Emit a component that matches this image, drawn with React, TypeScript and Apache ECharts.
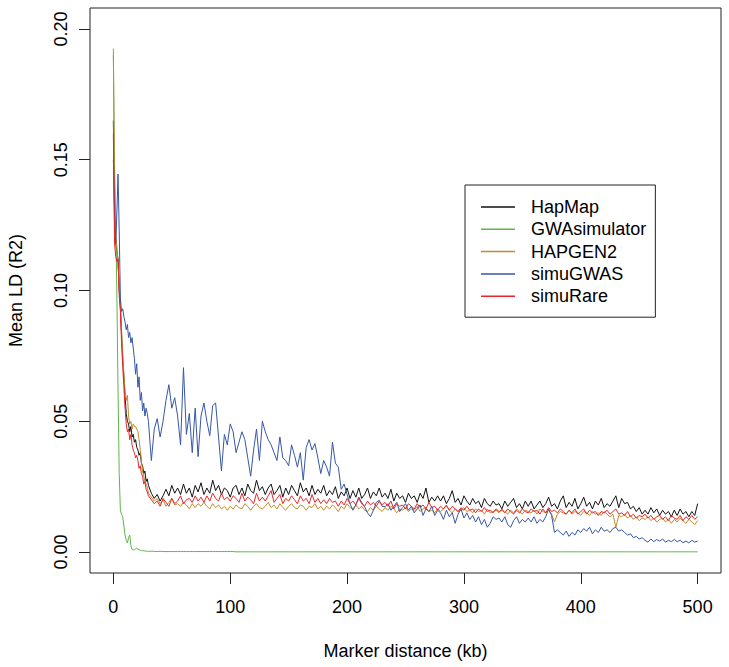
import React, { useEffect, useRef } from "react";
import * as echarts from "echarts";

// Marker distance grid (kb): 1 kb steps up to 29, then 2.5 kb steps
const DIST_KB = [
  0, 1, 2, 3, 4, 5, 6, 7, 8, 9,
  10, 11, 12, 13, 14, 15, 16, 17, 18, 19,
  20, 21, 22, 23, 24, 25, 26, 27, 28, 29,
  30, 32.5, 35, 37.5, 40, 42.5, 45, 47.5, 50, 52.5,
  55, 57.5, 60, 62.5, 65, 67.5, 70, 72.5, 75, 77.5,
  80, 82.5, 85, 87.5, 90, 92.5, 95, 97.5, 100, 102.5,
  105, 107.5, 110, 112.5, 115, 117.5, 120, 122.5, 125, 127.5,
  130, 132.5, 135, 137.5, 140, 142.5, 145, 147.5, 150, 152.5,
  155, 157.5, 160, 162.5, 165, 167.5, 170, 172.5, 175, 177.5,
  180, 182.5, 185, 187.5, 190, 192.5, 195, 197.5, 200, 202.5,
  205, 207.5, 210, 212.5, 215, 217.5, 220, 222.5, 225, 227.5,
  230, 232.5, 235, 237.5, 240, 242.5, 245, 247.5, 250, 252.5,
  255, 257.5, 260, 262.5, 265, 267.5, 270, 272.5, 275, 277.5,
  280, 282.5, 285, 287.5, 290, 292.5, 295, 297.5, 300, 302.5,
  305, 307.5, 310, 312.5, 315, 317.5, 320, 322.5, 325, 327.5,
  330, 332.5, 335, 337.5, 340, 342.5, 345, 347.5, 350, 352.5,
  355, 357.5, 360, 362.5, 365, 367.5, 370, 372.5, 375, 377.5,
  380, 382.5, 385, 387.5, 390, 392.5, 395, 397.5, 400, 402.5,
  405, 407.5, 410, 412.5, 415, 417.5, 420, 422.5, 425, 427.5,
  430, 432.5, 435, 437.5, 440, 442.5, 445, 447.5, 450, 452.5,
  455, 457.5, 460, 462.5, 465, 467.5, 470, 472.5, 475, 477.5,
  480, 482.5, 485, 487.5, 490, 492.5, 495, 497.5, 500,
];

const HAPMAP = [
  0.165, 0.125, 0.118, 0.115, 0.112, 0.100, 0.094, 0.083, 0.074, 0.067,
  0.060, 0.053, 0.050, 0.049, 0.046, 0.048, 0.044, 0.045, 0.042, 0.043,
  0.040, 0.039, 0.037, 0.038, 0.034, 0.033, 0.030, 0.031, 0.027, 0.028,
  0.0255, 0.0225, 0.0205, 0.022, 0.0195, 0.0215, 0.024, 0.0215, 0.0255, 0.0225,
  0.0245, 0.022, 0.026, 0.0225, 0.0245, 0.021, 0.0255, 0.023, 0.0265, 0.022,
  0.0245, 0.0225, 0.0275, 0.0235, 0.0255, 0.022, 0.0245, 0.0235, 0.021, 0.0245,
  0.0255, 0.022, 0.0245, 0.0215, 0.026, 0.0235, 0.0225, 0.0275, 0.0235, 0.025,
  0.022, 0.0245, 0.026, 0.022, 0.0235, 0.0255, 0.021, 0.0245, 0.022, 0.0255,
  0.0235, 0.0215, 0.0265, 0.023, 0.0245, 0.0215, 0.0255, 0.022, 0.024, 0.0225,
  0.0255, 0.0215, 0.0235, 0.022, 0.025, 0.0205, 0.023, 0.0215, 0.0245, 0.0205,
  0.0235, 0.021, 0.0245, 0.0205, 0.022, 0.0245, 0.0205, 0.023, 0.0215, 0.0245,
  0.021, 0.0225, 0.0205, 0.024, 0.0195, 0.0225, 0.0205, 0.0215, 0.019, 0.0225,
  0.0205, 0.0215, 0.019, 0.0225, 0.0205, 0.0245, 0.019, 0.021, 0.0195, 0.0215,
  0.0195, 0.0215, 0.0185, 0.0205, 0.0235, 0.019, 0.0205, 0.018, 0.0215, 0.0195,
  0.018, 0.0205, 0.0185, 0.0195, 0.017, 0.0205, 0.0185, 0.0175, 0.0195, 0.018,
  0.0185, 0.0165, 0.0195, 0.0175, 0.019, 0.0205, 0.017, 0.0185, 0.0165, 0.0195,
  0.0175, 0.0195, 0.0165, 0.018, 0.0195, 0.017, 0.0185, 0.021, 0.0175, 0.0185,
  0.0165, 0.0195, 0.0215, 0.017, 0.019, 0.0175, 0.0205, 0.0165, 0.0185, 0.021,
  0.0175, 0.019, 0.0165, 0.0195, 0.018, 0.0205, 0.017, 0.0185, 0.0175, 0.0195,
  0.0215, 0.017, 0.0205, 0.0185, 0.019, 0.0165, 0.0175, 0.0155, 0.017, 0.0145,
  0.016, 0.0145, 0.017, 0.015, 0.0165, 0.014, 0.016, 0.0145, 0.0155, 0.0135,
  0.016, 0.014, 0.0165, 0.0145, 0.0155, 0.0135, 0.0155, 0.014, 0.0185,
];

const GWASIMULATOR = [
  0.19, 0.148, 0.128, 0.098, 0.062, 0.030, 0.016, 0.0145, 0.0135, 0.010,
  0.0065, 0.0045, 0.0035, 0.0055, 0.0065, 0.0025, 0.001, 0.0008, 0.0009, 0.0012,
  0.0015, 0.0011, 0.0009, 0.0007, 0.0006, 0.0005, 0.0005, 0.0004, 0.0004, 0.0003,
  0.0003, 0.0003, 0.0003, 0.0002, 0.0003, 0.0002, 0.0002, 0.0002, 0.0002, 0.0002,
  0.0002, 0.0002, 0.0002, 0.0002, 0.0002, 0.0002, 0.0002, 0.0002, 0.0002, 0.0002,
  0.0002, 0.0002, 0.0002, 0.0002, 0.0002, 0.0002, 0.0002, 0.0002, 0.0002, 0.0002,
  0.0001, 0.0001, 0.0001, 0.0001, 0.0001, 0.0001, 0.0001, 0.0001, 0.0001, 0.0001,
  0.0001, 0.0001, 0.0001, 0.0001, 0.0001, 0.0001, 0.0001, 0.0001, 0.0001, 0.0001,
  0.0001, 0.0001, 0.0001, 0.0001, 0.0001, 0.0001, 0.0001, 0.0001, 0.0001, 0.0001,
  0.0001, 0.0001, 0.0001, 0.0001, 0.0001, 0.0001, 0.0001, 0.0001, 0.0001, 0.0001,
  0.0001, 0.0001, 0.0001, 0.0001, 0.0001, 0.0001, 0.0001, 0.0001, 0.0001, 0.0001,
  0.0001, 0.0001, 0.0001, 0.0001, 0.0001, 0.0001, 0.0001, 0.0001, 0.0001, 0.0001,
  0.0001, 0.0001, 0.0001, 0.0001, 0.0001, 0.0001, 0.0001, 0.0001, 0.0001, 0.0001,
  0.0001, 0.0001, 0.0001, 0.0001, 0.0001, 0.0001, 0.0001, 0.0001, 0.0001, 0.0001,
  0.0001, 0.0001, 0.0001, 0.0001, 0.0001, 0.0001, 0.0001, 0.0001, 0.0001, 0.0001,
  0.0001, 0.0001, 0.0001, 0.0001, 0.0001, 0.0001, 0.0001, 0.0001, 0.0001, 0.0001,
  0.0001, 0.0001, 0.0001, 0.0001, 0.0001, 0.0001, 0.0001, 0.0001, 0.0001, 0.0001,
  0.0001, 0.0001, 0.0001, 0.0001, 0.0001, 0.0001, 0.0001, 0.0001, 0.0001, 0.0001,
  0.0001, 0.0001, 0.0001, 0.0001, 0.0001, 0.0001, 0.0001, 0.0001, 0.0001, 0.0001,
  0.0001, 0.0001, 0.0001, 0.0001, 0.0001, 0.0001, 0.0001, 0.0001, 0.0001, 0.0001,
  0.0001, 0.0001, 0.0001, 0.0001, 0.0001, 0.0001, 0.0001, 0.0001, 0.0001, 0.0001,
  0.0001, 0.0001, 0.0001, 0.0001, 0.0001, 0.0001, 0.0001, 0.0001, 0.0001,
];

const HAPGEN2 = [
  0.1925, 0.130, 0.121, 0.117, 0.110, 0.102, 0.095, 0.085, 0.076, 0.068,
  0.061, 0.058, 0.060, 0.052, 0.049, 0.050, 0.047, 0.049, 0.048, 0.048,
  0.047, 0.046, 0.043, 0.039, 0.035, 0.031, 0.029, 0.027, 0.026, 0.025,
  0.0225, 0.021, 0.0195, 0.0205, 0.0185, 0.020, 0.0175, 0.019, 0.0205, 0.018,
  0.0185, 0.0175, 0.019, 0.018, 0.0165, 0.0185, 0.017, 0.0185, 0.0175, 0.019,
  0.0175, 0.0165, 0.0185, 0.017, 0.018, 0.0165, 0.0175, 0.016, 0.0175, 0.0165,
  0.018, 0.017, 0.0165, 0.0185, 0.0175, 0.016, 0.0175, 0.0185, 0.017, 0.0165,
  0.0175, 0.019, 0.017, 0.018, 0.0165, 0.0185, 0.017, 0.016, 0.0175, 0.0185,
  0.017, 0.0165, 0.018, 0.0175, 0.016, 0.0175, 0.017, 0.0185, 0.0165, 0.0175,
  0.016, 0.0175, 0.0165, 0.018, 0.017, 0.0155, 0.0175, 0.0165, 0.0185, 0.017,
  0.0165, 0.018, 0.0165, 0.0175, 0.016, 0.0155, 0.017, 0.016, 0.0175, 0.0165,
  0.0155, 0.017, 0.016, 0.0175, 0.0165, 0.015, 0.0165, 0.016, 0.017, 0.0155,
  0.0165, 0.016, 0.0175, 0.0155, 0.0165, 0.017, 0.0155, 0.016, 0.015, 0.0165,
  0.0155, 0.0165, 0.0175, 0.016, 0.015, 0.0165, 0.0155, 0.016, 0.017, 0.0155,
  0.016, 0.015, 0.0165, 0.0155, 0.016, 0.0145, 0.0165, 0.015, 0.0155, 0.016,
  0.015, 0.0165, 0.0155, 0.0145, 0.016, 0.015, 0.0165, 0.0155, 0.0145, 0.016,
  0.0155, 0.015, 0.016, 0.0145, 0.0165, 0.0155, 0.015, 0.016, 0.0145, 0.0115,
  0.0145, 0.0155, 0.015, 0.0145, 0.016, 0.0145, 0.0155, 0.015, 0.014, 0.0155,
  0.015, 0.014, 0.0155, 0.0145, 0.015, 0.014, 0.0155, 0.0145, 0.0135, 0.0145,
  0.0095, 0.014, 0.0135, 0.0145, 0.013, 0.014, 0.0125, 0.0135, 0.012, 0.013,
  0.0125, 0.0135, 0.012, 0.013, 0.0115, 0.0125, 0.013, 0.0115, 0.0125, 0.011,
  0.0125, 0.0115, 0.013, 0.012, 0.011, 0.0125, 0.0115, 0.0105, 0.012,
];

const SIMUGWAS = [
  0.15, 0.132, 0.118, 0.130, 0.1445, 0.123, 0.097, 0.092, 0.093, 0.090,
  0.088, 0.085, 0.087, 0.082, 0.084, 0.080, 0.082, 0.078, 0.074, 0.068,
  0.072, 0.063, 0.067, 0.058, 0.061, 0.054, 0.057, 0.052, 0.055, 0.053,
  0.050, 0.035, 0.047, 0.051, 0.044, 0.050, 0.058, 0.064, 0.055, 0.059,
  0.052, 0.041, 0.0705, 0.045, 0.053, 0.038, 0.055, 0.0365, 0.052, 0.057,
  0.050, 0.0445, 0.056, 0.057, 0.044, 0.031, 0.045, 0.041, 0.049, 0.046,
  0.038, 0.042, 0.046, 0.043, 0.036, 0.029, 0.039, 0.047, 0.035, 0.050,
  0.046, 0.043, 0.041, 0.038, 0.035, 0.044, 0.036, 0.035, 0.033, 0.041,
  0.037, 0.0325, 0.038, 0.0275, 0.040, 0.043, 0.039, 0.0415, 0.036, 0.030,
  0.035, 0.0325, 0.029, 0.042, 0.034, 0.0325, 0.024, 0.026, 0.022, 0.0185,
  0.016, 0.018, 0.021, 0.019, 0.0173, 0.015, 0.0135, 0.016, 0.019, 0.0198,
  0.0175, 0.0173, 0.0185, 0.016, 0.0175, 0.019, 0.0155, 0.017, 0.0185, 0.016,
  0.0175, 0.015, 0.0165, 0.018, 0.014, 0.0165, 0.0155, 0.0175, 0.014, 0.016,
  0.015, 0.0125, 0.016, 0.0135, 0.015, 0.011, 0.0145, 0.0165, 0.013, 0.015,
  0.0125, 0.014, 0.0115, 0.0135, 0.0105, 0.0125, 0.0095, 0.011, 0.0135, 0.0125,
  0.013, 0.0115, 0.0135, 0.0105, 0.0095, 0.012, 0.0135, 0.011, 0.0125, 0.0115,
  0.013, 0.0115, 0.0135, 0.011, 0.0125, 0.0115, 0.0135, 0.0165, 0.014, 0.0075,
  0.0085, 0.0075, 0.0065, 0.008, 0.006, 0.0075, 0.0065, 0.0085, 0.0075, 0.009,
  0.008, 0.0095, 0.007, 0.0085, 0.0075, 0.0095, 0.008, 0.0085, 0.0075, 0.009,
  0.0095, 0.008, 0.0085, 0.0075, 0.0065, 0.007, 0.0055, 0.006, 0.005, 0.0055,
  0.0045, 0.0038, 0.005, 0.004, 0.0048, 0.0042, 0.005, 0.0038, 0.0045, 0.004,
  0.0048, 0.004, 0.0045, 0.0036, 0.0042, 0.0035, 0.0045, 0.0038, 0.0042,
];

const SIMURARE = [
  0.160, 0.118, 0.113, 0.111, 0.112, 0.098, 0.092, 0.080, 0.071, 0.063,
  0.055, 0.049, 0.046, 0.047, 0.043, 0.045, 0.041, 0.039, 0.038, 0.036,
  0.037, 0.035, 0.032, 0.033, 0.030, 0.029, 0.026, 0.027, 0.024, 0.023,
  0.0215, 0.020, 0.0185, 0.0195, 0.0175, 0.0205, 0.019, 0.0175, 0.0205, 0.0185,
  0.0195, 0.0215, 0.0185, 0.020, 0.0205, 0.019, 0.0215, 0.0195, 0.021, 0.019,
  0.0215, 0.0195, 0.0225, 0.0205, 0.0195, 0.0225, 0.020, 0.021, 0.0195, 0.0215,
  0.0205, 0.019, 0.0225, 0.0195, 0.021, 0.020, 0.0185, 0.0225, 0.0195, 0.021,
  0.0195, 0.0215, 0.0235, 0.019, 0.0205, 0.022, 0.0185, 0.0205, 0.0195, 0.0215,
  0.020, 0.0185, 0.0215, 0.0195, 0.0205, 0.0185, 0.022, 0.019, 0.0205, 0.0185,
  0.020, 0.0185, 0.0205, 0.019, 0.0195, 0.0175, 0.0195, 0.018, 0.0205, 0.0185,
  0.0195, 0.018, 0.0205, 0.0185, 0.0175, 0.0195, 0.018, 0.019, 0.0175, 0.0195,
  0.018, 0.019, 0.0175, 0.0195, 0.0165, 0.0185, 0.0175, 0.018, 0.0165, 0.0185,
  0.0175, 0.0165, 0.0185, 0.017, 0.018, 0.0165, 0.019, 0.017, 0.0175, 0.016,
  0.0175, 0.0165, 0.018, 0.016, 0.0175, 0.0165, 0.0155, 0.017, 0.016, 0.0175,
  0.016, 0.0165, 0.015, 0.0165, 0.0155, 0.017, 0.0155, 0.016, 0.015, 0.0165,
  0.0155, 0.016, 0.015, 0.0165, 0.0155, 0.0145, 0.016, 0.015, 0.0165, 0.0155,
  0.015, 0.0165, 0.0155, 0.016, 0.0145, 0.0165, 0.015, 0.017, 0.0155, 0.016,
  0.015, 0.0165, 0.0155, 0.0145, 0.016, 0.015, 0.0165, 0.0145, 0.0155, 0.0165,
  0.0145, 0.016, 0.015, 0.0155, 0.014, 0.0155, 0.015, 0.016, 0.0145, 0.0155,
  0.0165, 0.0145, 0.015, 0.014, 0.0155, 0.0135, 0.0145, 0.013, 0.014, 0.0135,
  0.0145, 0.013, 0.014, 0.0125, 0.0135, 0.014, 0.0125, 0.0135, 0.012, 0.014,
  0.013, 0.0125, 0.014, 0.012, 0.0135, 0.0125, 0.014, 0.0125, 0.0135,
];

const SERIES_NAMES = ["HapMap", "GWAsimulator", "HAPGEN2", "simuGWAS", "simuRare"];
const SERIES_COLORS = ["#111111", "#5fb548", "#c48a2a", "#3757a5", "#e8262b"];
const X_TICKS = [0, 100, 200, 300, 400, 500];
const Y_TICKS = [0, 0.05, 0.1, 0.15, 0.2];

const FONT = "'Liberation Sans', Arial, Helvetica, sans-serif";

export default function App() {
  const ref = useRef<HTMLDivElement>(null);

  useEffect(() => {
    if (!ref.current) return;
    const chart = echarts.init(ref.current, null, { renderer: "svg" });
    const values = [HAPMAP, GWASIMULATOR, HAPGEN2, SIMUGWAS, SIMURARE];
    chart.setOption({
      animation: false,
      backgroundColor: "#ffffff",
      textStyle: { fontFamily: FONT },
      grid: {
        left: 90,
        right: 8,
        top: 8,
        bottom: 94,
        show: true,
        containLabel: false,
        outerBoundsMode: "none",
        borderColor: "#222",
        borderWidth: 1,
        backgroundColor: "transparent",
      },
      xAxis: {
        type: "value",
        min: -20,
        max: 520,
        axisLine: { show: false, onZero: false },
        splitLine: { show: false },
        axisTick: { show: true, inside: false, customValues: X_TICKS, length: 11, lineStyle: { color: "#222" } },
        axisLabel: {
          customValues: X_TICKS,
          margin: 25,
          fontSize: 18,
          color: "#000",
          fontFamily: FONT,
        },
        name: "Marker distance (kb)",
        nameLocation: "middle",
        nameGap: 69,
        nameTextStyle: { fontSize: 18, color: "#000", fontFamily: FONT },
      },
      yAxis: {
        type: "value",
        min: -0.008,
        max: 0.208,
        axisLine: { show: false, onZero: false },
        splitLine: { show: false },
        axisTick: { show: true, inside: false, customValues: Y_TICKS, length: 11, lineStyle: { color: "#222" } },
        axisLabel: {
          customValues: Y_TICKS,
          rotate: 90,
          margin: 20,
          fontSize: 18,
          color: "#000",
          fontFamily: FONT,
          formatter: (v: number) => v.toFixed(2),
        },
        name: "Mean LD (R2)",
        nameLocation: "middle",
        nameGap: 65.5,
        nameRotate: 90,
        nameTextStyle: { fontSize: 18, color: "#000", fontFamily: FONT },
      },
      legend: {
        data: SERIES_NAMES,
        orient: "vertical",
        left: 465,
        top: 185,
        padding: [13, 9, 12, 16],
        itemGap: 4.3,
        icon: "rect",
        itemWidth: 34,
        itemHeight: 1.5,
        borderColor: "#222",
        borderWidth: 1,
        textStyle: { fontSize: 18, color: "#000", fontFamily: FONT, padding: [0, 0, 0, 11], lineHeight: 18 },
      },
      series: SERIES_NAMES.map((name, k) => ({
        name,
        type: "line",
        data: DIST_KB.map((x, i) => [x, values[k][i]]),
        symbol: "none",
        showSymbol: false,
        silent: true,
        lineStyle: { width: 1, color: SERIES_COLORS[k] },
        itemStyle: { color: SERIES_COLORS[k] },
      })),
    });
    return () => chart.dispose();
  }, []);

  return (
    <div
      ref={ref}
      style={{ position: "fixed", left: 0, top: 0, width: 729, height: 667, background: "#fff" }}
    />
  );
}
